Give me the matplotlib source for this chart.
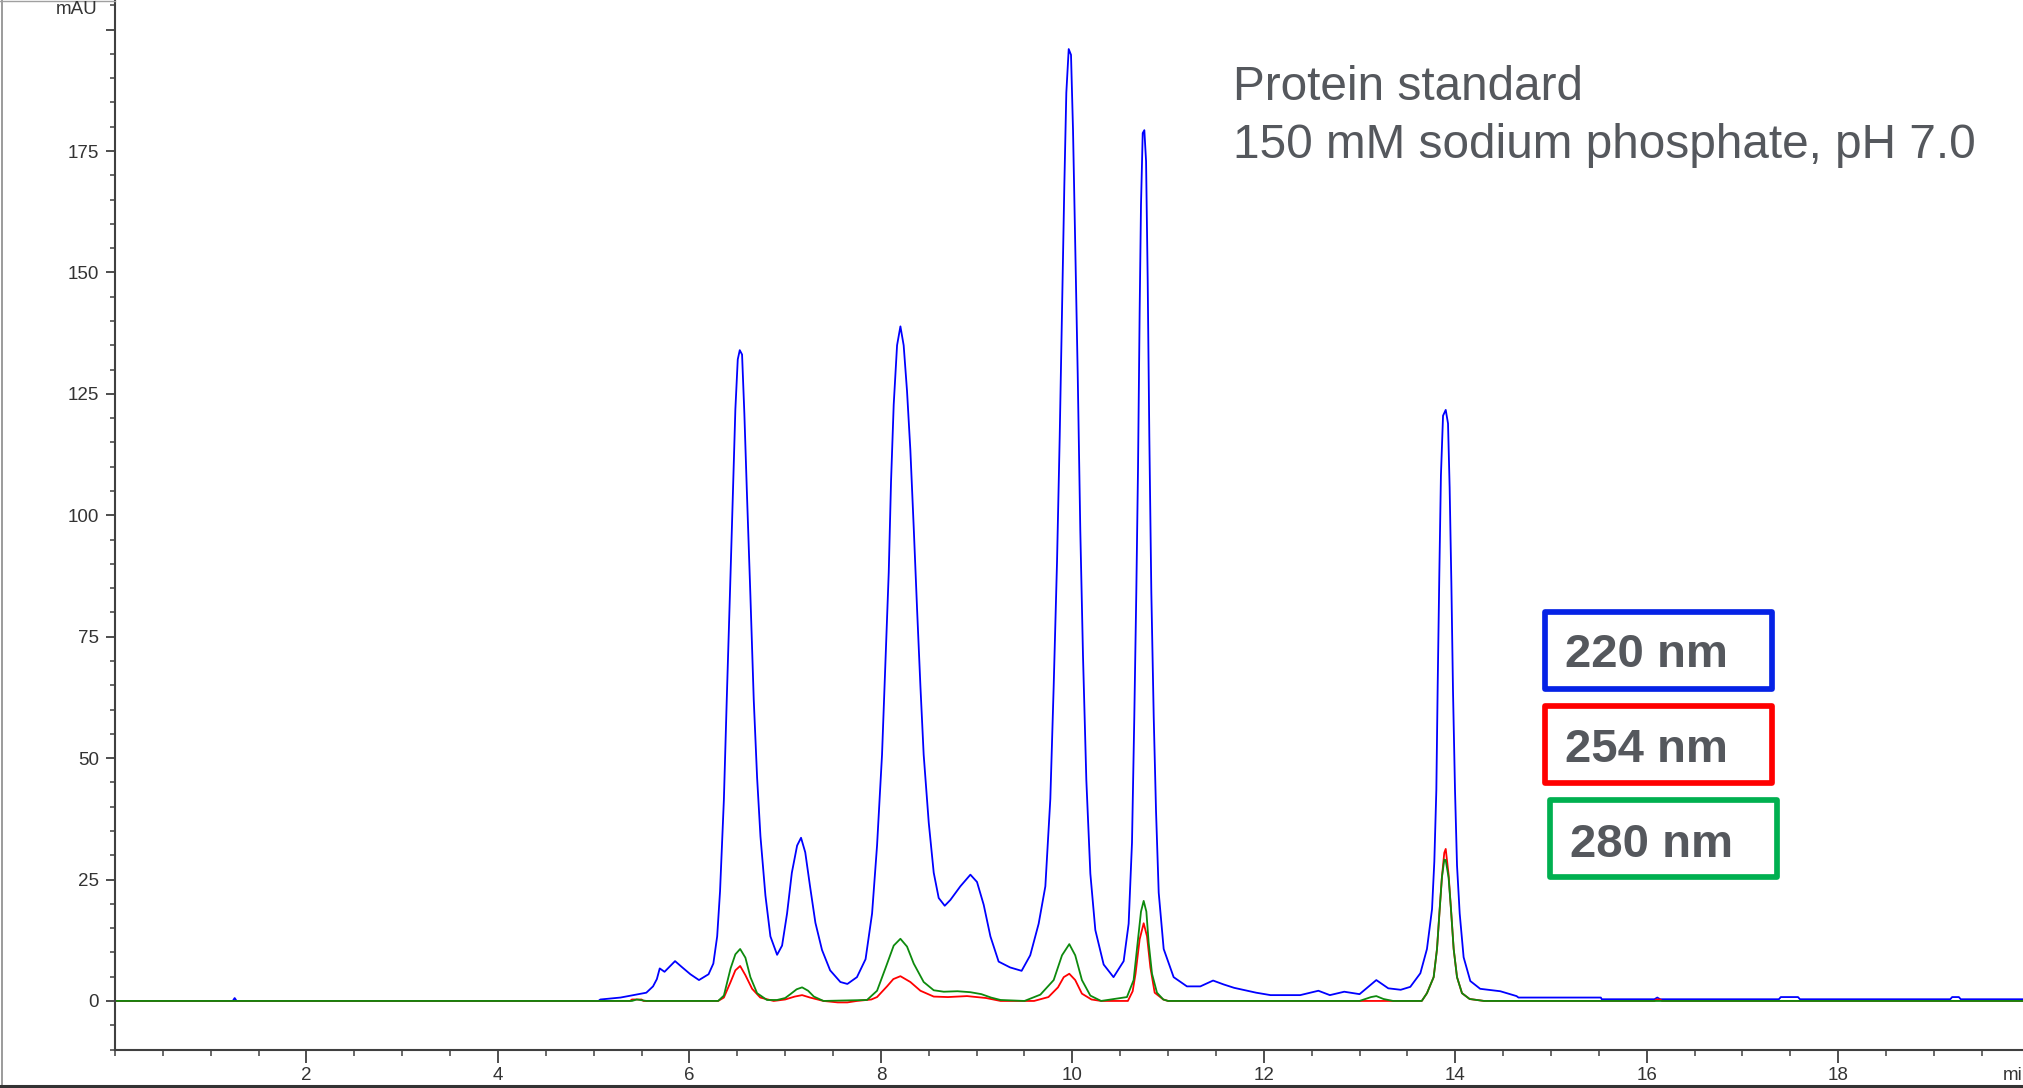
import numpy as np
import matplotlib
matplotlib.use("Agg")
import matplotlib.pyplot as plt
from matplotlib.patches import Rectangle
from matplotlib.lines import Line2D
from matplotlib.ticker import MultipleLocator, FixedLocator

plt.rcParams['font.family'] = ['Liberation Sans', 'DejaVu Sans']

# (time [min], absorbance [mAU])
trace_220 = [(0, 0), (1.23, 0), (1.25, 0.6), (1.27, 0), (5.05, 0), (5.07, 0.3), (5.28, 0.7),
             (5.47, 1.4), (5.55, 1.7), (5.62, 3.0), (5.66, 4.5), (5.69, 6.7), (5.74, 6.0),
             (5.80, 7.2), (5.85, 8.2), (5.92, 7.0), (6.01, 5.5), (6.10, 4.3), (6.20, 5.5),
             (6.25, 7.7), (6.29, 13.3), (6.32, 22.6), (6.36, 41.4), (6.39, 62), (6.43, 88.2),
             (6.46, 108.7), (6.48, 121.8), (6.505, 132.1), (6.526, 134.0), (6.55, 133.1),
             (6.574, 120.9), (6.60, 105), (6.637, 83.5), (6.672, 62), (6.707, 46),
             (6.742, 33.9), (6.794, 21.7), (6.846, 13.3), (6.916, 9.5), (6.968, 11.4),
             (7.02, 18), (7.07, 26.4), (7.125, 32), (7.166, 33.6), (7.21, 30.6), (7.26, 23.6),
             (7.316, 16.1), (7.385, 10.5), (7.47, 6.3), (7.577, 3.9), (7.65, 3.5), (7.75, 4.9),
             (7.84, 8.6), (7.908, 18), (7.96, 32), (8.012, 50.7), (8.047, 69.4), (8.082, 88.2),
             (8.106, 106.9), (8.134, 122.8), (8.169, 135), (8.204, 138.9), (8.238, 135),
             (8.273, 125.6), (8.308, 113.4), (8.343, 97.5), (8.378, 80.7), (8.413, 64.8),
             (8.447, 50.7), (8.50, 36.7), (8.552, 26.4), (8.604, 21.2), (8.667, 19.6),
             (8.726, 20.8), (8.83, 23.6), (8.935, 26), (9.004, 24.5), (9.074, 19.8),
             (9.144, 13.3), (9.23, 8.1), (9.35, 6.9), (9.47, 6.2), (9.56, 9.4), (9.648, 15.9),
             (9.718, 23.6), (9.77, 41.6), (9.805, 64.8), (9.84, 90.5), (9.868, 116.3),
             (9.892, 142), (9.916, 167.7), (9.937, 187), (9.962, 196), (9.986, 194.8),
             (10.007, 179.3), (10.031, 154.9), (10.056, 129.1), (10.083, 96.9), (10.111, 71.2),
             (10.146, 45.5), (10.188, 26.2), (10.24, 14.6), (10.327, 7.5), (10.43, 4.9),
             (10.536, 8.2), (10.588, 15.9), (10.623, 32.6), (10.647, 58.4), (10.668, 84.1),
             (10.686, 109.8), (10.703, 142), (10.717, 163.9), (10.735, 178.7), (10.752, 179.3),
             (10.77, 172.9), (10.787, 148.4), (10.804, 116.3), (10.825, 84.1), (10.85, 58.4),
             (10.874, 39.1), (10.902, 22.3), (10.954, 10.7), (11.058, 4.9), (11.197, 3.0),
             (11.337, 3.0), (11.47, 4.2), (11.58, 3.4), (11.69, 2.7), (11.92, 1.7), (12.07, 1.2),
             (12.38, 1.2), (12.57, 2.1), (12.69, 1.2), (12.84, 1.9), (13.0, 1.4), (13.175, 4.3),
             (13.30, 2.6), (13.43, 2.3), (13.53, 2.9), (13.635, 5.7), (13.704, 10.7),
             (13.757, 18.9), (13.781, 28.7), (13.802, 43.4), (13.816, 64.8), (13.833, 87.7),
             (13.85, 108.2), (13.872, 120.5), (13.9, 121.7), (13.924, 118.9), (13.941, 105.7),
             (13.959, 86), (13.976, 63.9), (13.997, 43.4), (14.018, 27.9), (14.046, 18),
             (14.087, 9), (14.157, 4.1), (14.26, 2.5), (14.47, 2.0), (14.64, 1.0), (14.66, 0.7),
             (15.52, 0.7), (15.53, 0.35), (16.08, 0.35), (16.11, 0.7), (16.14, 0.35),
             (17.38, 0.35), (17.40, 0.8), (17.58, 0.8), (17.60, 0.35), (19.17, 0.35),
             (19.19, 0.8), (19.26, 0.8), (19.28, 0.35), (20.0, 0.35)]

trace_254 = [(0, 0), (5.38, 0), (5.40, 0.3), (5.50, 0.3), (5.52, 0), (6.30, 0), (6.36, 0.7),
             (6.43, 3.9), (6.48, 6.3), (6.53, 7.2), (6.585, 5.3), (6.655, 2.5), (6.74, 0.7),
             (6.88, 0), (7.0, 0.3), (7.1, 0.9), (7.177, 1.2), (7.26, 0.7), (7.40, 0),
             (7.55, -0.3), (7.65, -0.3), (7.75, 0), (7.90, 0.3), (7.96, 0.8), (8.064, 3.0),
             (8.13, 4.5), (8.204, 5.1), (8.308, 3.9), (8.413, 2.1), (8.552, 0.9), (8.7, 0.8),
             (8.9, 1.0), (9.1, 0.6), (9.25, 0), (9.6, 0), (9.75, 0.8), (9.85, 2.8), (9.91, 4.9),
             (9.968, 5.6), (10.03, 4.3), (10.1, 1.5), (10.2, 0.3), (10.3, 0), (10.58, 0),
             (10.63, 2.0), (10.66, 5.6), (10.703, 12.7), (10.745, 16.0), (10.78, 13.3),
             (10.815, 6.9), (10.86, 1.7), (10.95, 0.3), (11.0, 0), (13.65, 0), (13.704, 1.6),
             (13.774, 4.9), (13.809, 10.7), (13.837, 18.9), (13.86, 25.4), (13.885, 30.5),
             (13.90, 31.3), (13.93, 26.0), (13.955, 18.9), (13.983, 10.7), (14.018, 4.9),
             (14.07, 1.6), (14.15, 0.4), (14.3, 0), (16.08, 0), (16.10, 0.3), (16.14, 0.3),
             (16.16, 0), (20, 0)]

trace_280 = [(0, 0), (5.40, 0), (5.45, 0.3), (5.55, 0), (6.30, 0), (6.36, 1.1), (6.43, 6.7),
             (6.48, 9.6), (6.53, 10.7), (6.585, 8.9), (6.637, 4.9), (6.707, 1.6), (6.81, 0.2),
             (6.916, 0.2), (7.0, 0.6), (7.055, 1.4), (7.12, 2.4), (7.177, 2.8), (7.24, 2.1),
             (7.30, 0.9), (7.40, 0), (7.855, 0.2), (7.96, 2.1), (8.047, 6.7), (8.134, 11.4),
             (8.204, 12.8), (8.273, 11.2), (8.343, 7.7), (8.447, 3.9), (8.552, 2.2),
             (8.657, 1.9), (8.8, 2.0), (8.935, 1.8), (9.05, 1.4), (9.15, 0.7), (9.25, 0.2),
             (9.5, 0), (9.666, 1.3), (9.805, 4.3), (9.892, 9.4), (9.968, 11.7), (10.03, 9.4),
             (10.1, 4.3), (10.188, 1.1), (10.3, 0), (10.57, 0.8), (10.64, 4.3), (10.682, 12),
             (10.717, 18.4), (10.745, 20.6), (10.773, 18.4), (10.797, 12), (10.832, 5.6),
             (10.884, 1.7), (10.95, 0.3), (11.0, 0), (13.0, 0), (13.12, 0.8), (13.175, 1.0),
             (13.25, 0.4), (13.35, 0), (13.65, 0), (13.704, 1.6), (13.774, 4.9), (13.809, 10.7),
             (13.837, 18.9), (13.86, 25.4), (13.885, 29.1), (13.90, 29.0), (13.93, 25.4),
             (13.955, 18.9), (13.983, 10.7), (14.018, 4.9), (14.07, 1.6), (14.15, 0.4),
             (14.3, 0), (20, 0)]

y_ticks = [0, 25, 50, 75, 100, 125, 150, 175, 200]
y_labels = ['0', '25', '50', '75', '100', '125', '150', '175', '']
x_ticks = [2, 4, 6, 8, 10, 12, 14, 16, 18]

title_lines = ['Protein standard', '150 mM sodium phosphate, pH 7.0']
legend_labels = ['220 nm', '254 nm', '280 nm']

W, H = 2023, 1088
text_grey = '#55585d'


def fx(px):
    return px / W


def fy(py):
    return 1 - py / H


fig = plt.figure(figsize=(W / 100, H / 100), dpi=100)
ax = fig.add_axes([fx(115), fy(1050), fx(W - 115), 1050 / H])

for trace, col in [(trace_220, '#0000ff'), (trace_254, '#ff0000'), (trace_280, '#0d8a0d')]:
    arr = np.array(trace)
    ax.plot(arr[:, 0], arr[:, 1], color=col, lw=1.3)

ax.set_xlim(0, 19.93)
ax.set_ylim(-10.1, 206.1)

for s in ['top', 'right']:
    ax.spines[s].set_visible(False)
for s in ['left', 'bottom']:
    ax.spines[s].set_color('#404040')
    ax.spines[s].set_linewidth(1.5)

ax.yaxis.set_major_locator(FixedLocator(y_ticks))
ax.set_yticklabels(y_labels)
ax.yaxis.set_minor_locator(MultipleLocator(5))
ax.xaxis.set_major_locator(FixedLocator(x_ticks))
ax.xaxis.set_minor_locator(MultipleLocator(0.5))
ax.tick_params(axis='y', which='major', length=6.5, width=1.3, color='#404040',
               labelsize=13.5, labelcolor='#333333', pad=5)
ax.tick_params(axis='y', which='minor', length=3.6, width=1.1, color='#404040')
ax.tick_params(axis='x', which='major', length=9, width=1.3, color='#404040',
               labelsize=13.5, labelcolor='#333333', pad=3.5)
ax.tick_params(axis='x', which='minor', length=4.5, width=1.1, color='#404040')

fig.text(fx(98), fy(10), 'mAU', ha='right', va='center', fontsize=13.5, color='#333333')
# the axis unit sits at the right edge and is cropped there, as in the original screenshot
fig.text(fx(2003), fy(1075), 'min', ha='left', va='center', fontsize=13.5, color='#333333')

# annotation in the upper right
fig.text(fx(1233), fy(100), title_lines[0], ha='left', va='baseline', fontsize=34.4, color=text_grey)
fig.text(fx(1233), fy(158), title_lines[1], ha='left', va='baseline', fontsize=34.4, color=text_grey)

# wavelength boxes
boxes = [((1544.5, 612, 1772, 689), '#0522e6', 1565, 667),
         ((1544.5, 705.5, 1772, 783), '#ff0000', 1565, 762),
         ((1549.5, 799.5, 1776.5, 876.5), '#00b050', 1570, 857)]
for (x0, y0, x1, y1), col, tx, ty in boxes:
    rect = Rectangle((fx(x0), fy(y1)), fx(x1 - x0), (y1 - y0) / H, transform=fig.transFigure,
                     fill=False, edgecolor=col, lw=4.1, joinstyle='round')
    fig.add_artist(rect)
for (box, col, tx, ty), lab in zip(boxes, legend_labels):
    fig.text(fx(tx), fy(ty), lab, ha='left', va='baseline', fontsize=34,
             fontweight='bold', color=text_grey)

# outer frame of the screenshot
fig.add_artist(Line2D([fx(1.5), fx(1.5)], [0, 1], transform=fig.transFigure, color='#8a8a8a', lw=1.2))
fig.add_artist(Line2D([0, 1], [fy(1086), fy(1086)], transform=fig.transFigure, color='#333333', lw=2.2))
fig.add_artist(Line2D([0, fx(115)], [fy(1), fy(1)], transform=fig.transFigure, color='#a0a0a0', lw=1.0))

fig.savefig('out.png', dpi=100)
